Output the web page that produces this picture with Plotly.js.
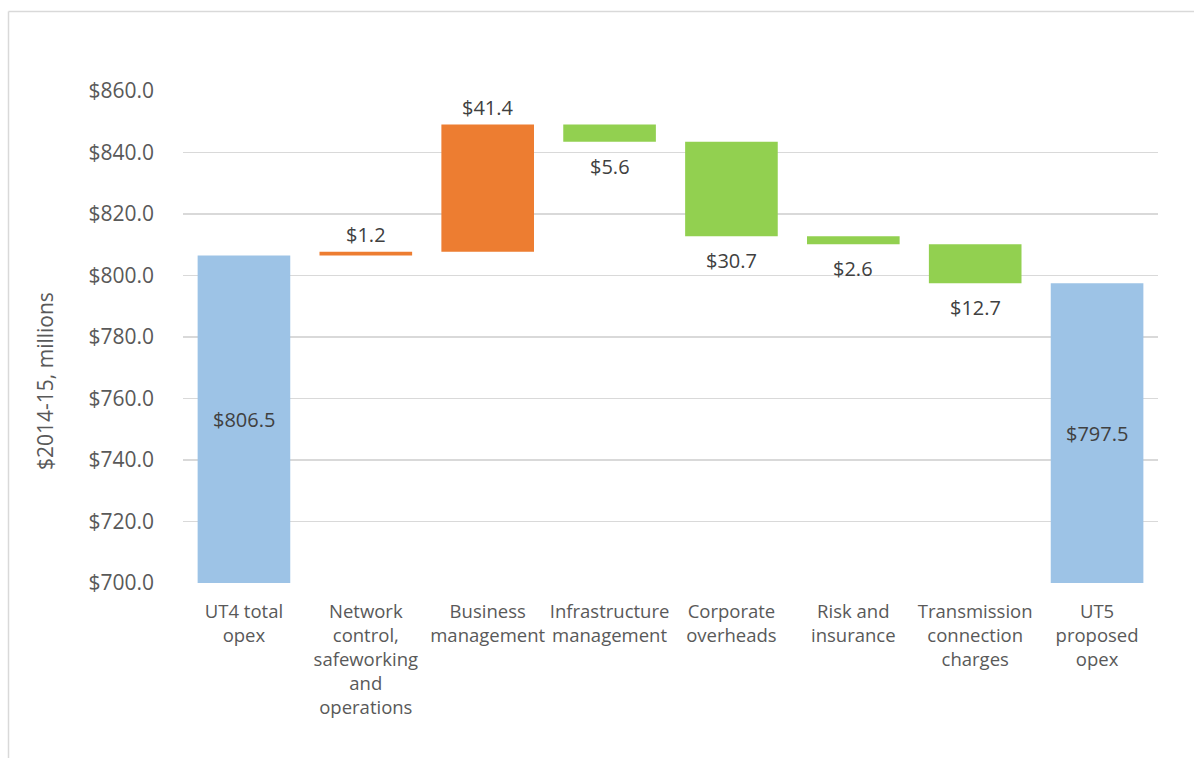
<!DOCTYPE html>
<html>
<head>
<meta charset="utf-8">
<script src="https://cdn.plot.ly/plotly-3.0.1.min.js"></script>
<style>
  html, body { margin: 0; padding: 0; background: #fff; }
  #chart { width: 1194px; height: 758px; }
</style>
</head>
<body>
<div id="chart"></div>
<script>
const categories = [
  "UT4 total<br>opex",
  "Network<br>control,<br>safeworking<br>and<br>operations",
  "Business<br>management",
  "Infrastructure<br>management",
  "Corporate<br>overheads",
  "Risk and<br>insurance",
  "Transmission<br>connection<br>charges",
  "UT5<br>proposed<br>opex"
];
const measures = ["absolute","relative","relative","relative","relative","relative","relative","total"];
const values = [806.5, 1.2, 41.4, -5.6, -30.7, -2.6, -12.7, 0];
const totalLabel = 797.5;
const yTicks = [700, 720, 740, 760, 780, 800, 820, 840, 860];

const axisMin = 700, axisMax = 860;
const labelColor = "#404040";
const tickColor = "#595959";
const fontFamily = "Open Sans, sans-serif";

const W = 1194, H = 758;
const margin = {l: 183, r: 36, t: 91, b: 175};
const pw = W - margin.l - margin.r, ph = H - margin.t - margin.b;
const fx = px => (px - margin.l) / pw;
const fy = py => 1 - (py - margin.t) / ph;

// compute running totals for labels
const annotations = [];
let running = 0;
for (let i = 0; i < values.length; i++) {
  const m = measures[i];
  if (m === "absolute") {
    running = values[i];
    annotations.push({x: categories[i], y: (axisMin + running) / 2, text: "$" + running.toFixed(1),
      showarrow: false, yanchor: "middle", font: {size: 20, color: labelColor, family: fontFamily}});
  } else if (m === "total") {
    annotations.push({x: categories[i], y: (axisMin + running) / 2, text: "$" + totalLabel.toFixed(1),
      showarrow: false, yanchor: "middle", font: {size: 20, color: labelColor, family: fontFamily}});
  } else {
    const end = running + values[i];
    const up = values[i] >= 0;
    annotations.push({x: categories[i], y: up ? Math.max(end, running) : Math.min(end, running),
      text: "$" + Math.abs(values[i]).toFixed(1), showarrow: false,
      yanchor: up ? "bottom" : "top", yshift: up ? 2 : -9,
      font: {size: 20, color: labelColor, family: fontFamily}});
    running = end;
  }
}

// y axis title as rotated annotation
annotations.push({
  xref: "paper", yref: "paper", x: fx(45), y: fy(381), xanchor: "center", yanchor: "middle",
  text: "$2014-15, millions", textangle: -90, showarrow: false,
  font: {size: 21, color: tickColor, family: fontFamily}
});

const trace = {
  type: "waterfall",
  x: categories,
  y: values,
  measure: measures,
  base: 0,
  connector: {visible: false},
  increasing: {marker: {color: "#ED7D31"}},
  decreasing: {marker: {color: "#92D050"}},
  totals: {marker: {color: "#9DC3E6"}},
  hoverinfo: "x+y",
  cliponaxis: true
};

const layout = {
  width: W, height: H,
  margin: margin,
  paper_bgcolor: "#fff",
  plot_bgcolor: "#fff",
  showlegend: false,
  waterfallgap: 0.24,
  font: {family: fontFamily, color: tickColor},
  xaxis: {
    type: "category",
    showgrid: false, zeroline: false, showline: false, ticks: "",
    tickangle: 0,
    tickfont: {size: 18.5, color: tickColor, family: fontFamily},
    ticklabelstandoff: 15,
    automargin: false
  },
  yaxis: {
    range: [axisMin, axisMax],
    tickvals: yTicks,
    ticktext: yTicks.map(v => "$" + v.toFixed(1)),
    showgrid: true, gridcolor: "#d9d9d9", gridwidth: 1.5,
    zeroline: false, showline: false, ticks: "",
    ticklabelstandoff: 28,
    tickfont: {size: 21, color: tickColor, family: fontFamily},
    automargin: false
  },
  annotations: annotations,
  shapes: [
    {type: "line", xref: "paper", yref: "paper", x0: fx(8.5), x1: fx(1194), y0: fy(11.5), y1: fy(11.5),
      line: {color: "#d9d9d9", width: 1.5}},
    {type: "line", xref: "paper", yref: "paper", x0: fx(8.5), x1: fx(8.5), y0: fy(11.5), y1: fy(758),
      line: {color: "#d9d9d9", width: 1.5}}
  ]
};

Plotly.newPlot("chart", [trace], layout, {displayModeBar: false, staticPlot: true});
</script>
</body>
</html>
